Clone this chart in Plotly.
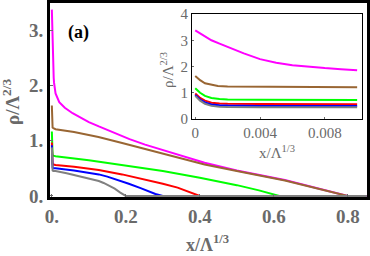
import plotly.graph_objects as go

# ---- data ----
x_magenta = [0, 0.0005, 0.001, 0.0015, 0.002, 0.003, 0.004, 0.005, 0.006, 0.007, 0.008, 0.009, 0.01,
             0.02, 0.035, 0.056, 0.08, 0.1, 0.127, 0.18, 0.21, 0.252, 0.3, 0.34, 0.413, 0.5, 0.63, 0.8, 0.85]
y_magenta = [3.38, 3.18, 3.0, 2.87, 2.74, 2.5, 2.28, 2.14, 2.05, 1.99, 1.94, 1.9, 1.86,
             1.70, 1.60, 1.50, 1.41, 1.34, 1.26, 1.11, 1.03, 0.93, 0.83, 0.75, 0.60, 0.46, 0.29, 0.0, 0.0]

x_brown = [0, 0.0003, 0.0006, 0.001, 0.0014, 0.002, 0.004, 0.01, 0.06, 0.126, 0.19, 0.252, 0.33,
           0.413, 0.5, 0.63, 0.8, 0.85]
y_brown = [1.64, 1.48, 1.36, 1.30, 1.26, 1.24, 1.23, 1.21, 1.16, 1.07, 0.96, 0.85, 0.71,
           0.57, 0.45, 0.28, 0.0, 0.0]

x_green = [0, 0.0003, 0.0006, 0.001, 0.0015, 0.002, 0.004, 0.01, 0.1, 0.2, 0.3, 0.4, 0.45, 0.5, 0.56, 0.615, 0.85]
y_green = [1.17, 1.0, 0.88, 0.80, 0.76, 0.74, 0.73, 0.72, 0.645, 0.55, 0.45, 0.33, 0.265, 0.195, 0.10, 0.0, 0.0]

x_red = [0, 0.0003, 0.0006, 0.001, 0.0015, 0.002, 0.004, 0.01, 0.06, 0.127, 0.19, 0.252, 0.3, 0.34, 0.37, 0.40, 0.85]
y_red = [0.97, 0.80, 0.70, 0.62, 0.59, 0.58, 0.57, 0.56, 0.53, 0.47, 0.39, 0.30, 0.22, 0.15, 0.08, 0.0, 0.0]

x_blue = [0, 0.0003, 0.0006, 0.001, 0.0015, 0.002, 0.004, 0.01, 0.06, 0.1, 0.127, 0.15, 0.17, 0.208,
          0.24, 0.26, 0.28, 0.30, 0.85]
y_blue = [0.92, 0.74, 0.63, 0.55, 0.52, 0.51, 0.50, 0.50, 0.46, 0.42, 0.39, 0.35, 0.31, 0.22,
          0.14, 0.085, 0.035, 0.0, 0.0]

x_gray = [0, 0.0003, 0.0006, 0.001, 0.0015, 0.002, 0.004, 0.01, 0.04, 0.073, 0.1, 0.127, 0.14,
          0.155, 0.17, 0.185, 0.2, 0.85]
y_gray = [0.88, 0.70, 0.58, 0.50, 0.47, 0.46, 0.45, 0.45, 0.41, 0.36, 0.32, 0.27, 0.235,
          0.19, 0.13, 0.06, 0.0, 0.0]

series = [
    ("magenta", x_magenta, y_magenta, "#ff00ff"),
    ("brown", x_brown, y_brown, "#996633"),
    ("green", x_green, y_green, "#00ff00"),
    ("red", x_red, y_red, "#ff0000"),
    ("blue", x_blue, y_blue, "#0000ff"),
    ("gray", x_gray, y_gray, "#808080"),
]

main_xticks = [0, 0.2, 0.4, 0.6, 0.8]
main_xticktext = ["0.", "0.2", "0.4", "0.6", "0.8"]
main_yticks = [0, 1, 2, 3]
main_yticktext = ["0.", "1.", "2.", "3."]
inset_xticks = [0, 0.004, 0.008]
inset_xticktext = ["0", "0.004", "0.008"]
inset_yticks = [0, 1, 2, 3, 4]

fig = go.Figure()
for name, xs, ys, col in series:
    fig.add_trace(go.Scatter(x=xs, y=ys, mode="lines", line=dict(color=col, width=2),
                             xaxis="x", yaxis="y", showlegend=False, name=name))
for name, xs, ys, col in series:
    xi = [v for v in xs if v <= 0.0105]
    yi = ys[:len(xi)]
    fig.add_trace(go.Scatter(x=xi, y=yi, mode="lines", line=dict(color=col, width=2),
                             xaxis="x2", yaxis="y2", showlegend=False, name=name))

gray = "#6a6a6a"
serif = "Liberation Serif, Times New Roman, serif"
W, H = 370, 256
L, R, T, B = 50, 3, 3, 59
pw, ph = W - L - R, H - T - B

def px(xp):
    return (xp - L) / pw

def py(yp):
    return (H - B - yp) / ph

common = dict(showgrid=False, zeroline=False, showline=True, mirror=True,
              linecolor="black", ticks="inside", tickcolor=gray, tickwidth=1,
              automargin=False)

fig.update_layout(
    template="none",
    width=W, height=H,
    margin=dict(l=L, r=R, t=T, b=B),
    paper_bgcolor="white", plot_bgcolor="white",
    xaxis=dict(range=[-0.005, 0.852], tickvals=main_xticks, ticktext=main_xticktext,
               linewidth=3, ticklen=3,
               tickfont=dict(family=serif, size=19, color=gray, weight="bold"), **common),
    yaxis=dict(range=[-0.02, 3.5], tickvals=main_yticks, ticktext=main_yticktext,
               linewidth=3, ticklen=3,
               tickfont=dict(family=serif, size=19, color=gray, weight="bold"), **common),
    xaxis2=dict(domain=[px(192), px(362)], anchor="y2", range=[-0.0002, 0.0103],
                tickvals=inset_xticks, ticktext=inset_xticktext,
                linewidth=1.2, ticklen=2,
                tickfont=dict(family=serif, size=15, color=gray), **common),
    yaxis2=dict(domain=[py(119), py(14)], anchor="x2", range=[0, 4],
                tickvals=inset_yticks,
                linewidth=1.2, ticklen=2,
                tickfont=dict(family=serif, size=15, color=gray), **common),
)

annotations = [
    dict(text="<b>x/Λ<sup>1/3</sup></b>", x=px(207), y=py(243), font=dict(family=serif, size=18, color=gray)),
    dict(text="<b>ρ/Λ<sup>2/3</sup></b>", x=px(11), y=py(102), textangle=-90,
         font=dict(family=serif, size=19, color=gray)),
    dict(text="x/Λ<sup>1/3</sup>", x=px(277), y=py(152), font=dict(family=serif, size=15, color=gray)),
    dict(text="ρ/Λ<sup>2/3</sup>", x=px(167), y=py(70), textangle=-90,
         font=dict(family=serif, size=15, color=gray)),
    dict(text="<b>(a)</b>", x=px(78), y=py(32), font=dict(family=serif, size=18, color="black")),
]
for a in annotations:
    a.update(xref="paper", yref="paper", showarrow=False, xanchor="center", yanchor="middle")
fig.update_layout(annotations=annotations)

fig.write_html("out.html", config={"displayModeBar": False},
               post_script="document.body.style.margin='0px';")
